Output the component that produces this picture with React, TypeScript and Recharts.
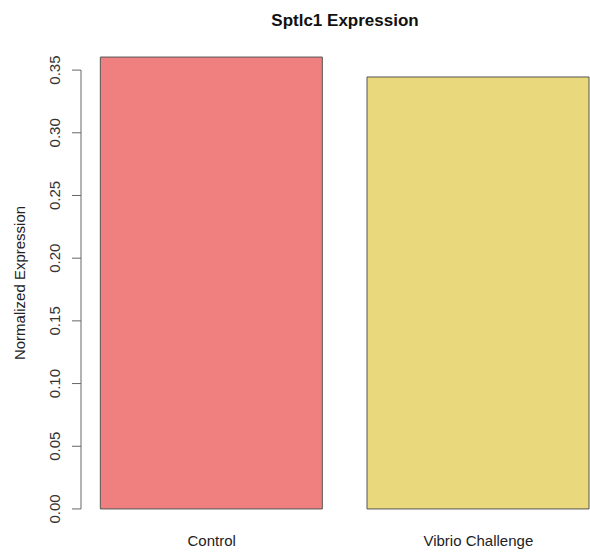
import { BarChart, Bar, XAxis, YAxis, Cell, ReferenceLine, Label } from "recharts";

const categories = ["Control", "Vibrio Challenge"];
const expression = [0.3604, 0.3445];
const barColors = ["#F08080", "#E9D87C"];
const yTicks = [0, 0.05, 0.1, 0.15, 0.2, 0.25, 0.3, 0.35];

// R barplot units: width 1, space 0.2 -> centres at 0.7 and 1.9
const barCentres = [0.7, 1.9];

const FONT = "'Liberation Sans', Arial, Helvetica, sans-serif";
const AXIS = "#666";

const data = categories.map((name, i) => ({ name, x: barCentres[i], value: expression[i] }));

// R style tick: short mark left of the axis, label turned parallel to it
function RotatedTick({ x, y, payload }: any) {
  const bx = x - 10;
  return (
    <g>
      <line x1={x + 2} y1={y} x2={x + 11} y2={y} stroke={AXIS} strokeWidth={1} />
      <text
        x={bx}
        y={y}
        transform={`rotate(-90, ${bx}, ${y})`}
        textAnchor="middle"
        fill="#333"
        fontSize={15}
        fontFamily={FONT}
      >
        {Number(payload.value).toFixed(2)}
      </text>
    </g>
  );
}

function YTitle({ viewBox }: any) {
  const cy = viewBox.y + viewBox.height / 2;
  return (
    <text
      x={25}
      y={cy}
      transform={`rotate(-90, 25, ${cy})`}
      textAnchor="middle"
      fill="#222"
      fontSize={15}
      fontFamily={FONT}
    >
      Normalized Expression
    </text>
  );
}

export default function App() {
  return (
    <div
      style={{
        position: "absolute",
        left: 0,
        top: 0,
        width: 590,
        height: 553,
        overflow: "hidden",
        background: "#fff",
      }}
    >
      <div
        style={{
          position: "absolute",
          left: 81,
          width: 528,
          top: 12,
          textAlign: "center",
          fontFamily: FONT,
          fontWeight: "bold",
          fontSize: 17,
          lineHeight: "17px",
          color: "#111",
        }}
      >
        Sptlc1 Expression
      </div>
      <BarChart
        width={640}
        height={553}
        data={data}
        margin={{ top: 39, right: 31, bottom: 0, left: 0 }}
      >
        <XAxis
          dataKey="x"
          type="number"
          domain={[0.112, 2.488]}
          ticks={barCentres}
          tickFormatter={(v: number) => categories[barCentres.indexOf(v)] ?? ""}
          axisLine={false}
          tickLine={false}
          height={26}
          tick={{ fontSize: 15, fill: "#222", fontFamily: FONT }}
        />
        <YAxis
          type="number"
          domain={[-0.0144, 0.3748]}
          ticks={yTicks}
          allowDataOverflow
          width={81}
          axisLine={false}
          tickLine={false}
          tickSize={9}
          tick={<RotatedTick />}
        >
          <Label content={<YTitle />} />
        </YAxis>
        {/* axis line only spans the tick range, like R */}
        <ReferenceLine
          segment={[
            { x: 0.112, y: 0 },
            { x: 0.112, y: 0.35 },
          ]}
          stroke={AXIS}
          strokeWidth={1}
          ifOverflow="visible"
        />
        <Bar dataKey="value" barSize={222} stroke="#555" strokeWidth={1} isAnimationActive={false}>
          {data.map((d, i) => (
            <Cell key={d.name} fill={barColors[i]} />
          ))}
        </Bar>
      </BarChart>
    </div>
  );
}
